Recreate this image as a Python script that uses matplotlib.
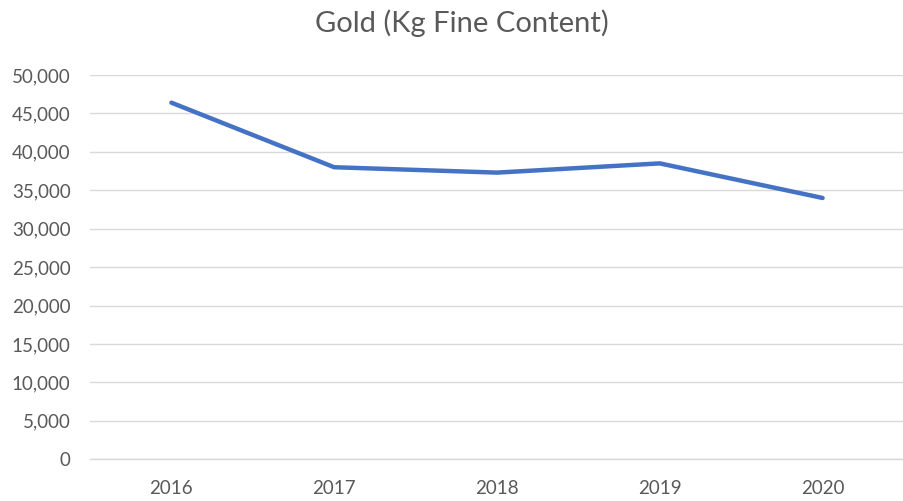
import matplotlib
matplotlib.use("Agg")
import matplotlib.pyplot as plt
from matplotlib.ticker import FuncFormatter

years = ["2016", "2017", "2018", "2019", "2020"]
gold_kg = [46400, 38000, 37300, 38500, 34000]
y_ticks = [0, 5000, 10000, 15000, 20000, 25000, 30000, 35000, 40000, 45000, 50000]

plt.rcParams['font.family'] = ['Lato', 'DejaVu Sans']

fig = plt.figure(figsize=(9.04, 5.01), dpi=100)
ax = fig.add_axes([90/904, 1-459.3/501, (904-90)/904, (459.3-75)/501])

x = list(range(len(years)))
ax.plot(x, gold_kg, color="#4472C4", lw=3.2, solid_capstyle="round", solid_joinstyle="round", zorder=3)

ax.set_xlim(-0.5, len(years)-0.5)
ax.set_ylim(0, 50000)
ax.set_yticks(y_ticks)
ax.yaxis.set_major_formatter(FuncFormatter(lambda v, p: f"{int(v):,}"))
ax.set_xticks(x)
ax.set_xticklabels(years)

ax.grid(axis="y", color="#D9D9D9", lw=1)
ax.set_axisbelow(True)
for s in ["top", "right", "left"]:
    ax.spines[s].set_visible(False)
ax.spines["bottom"].set_color("#D9D9D9")
ax.spines["bottom"].set_linewidth(1)

ax.tick_params(axis="both", length=0, colors="#595959", labelsize=13.5)
ax.tick_params(axis="y", pad=14)
ax.tick_params(axis="x", pad=15)

fig.text(462/904, 1-23/501, "Gold (Kg Fine Content)", ha="center", va="center", fontsize=21, color="#595959")

fig.savefig("out.png", dpi=100)
